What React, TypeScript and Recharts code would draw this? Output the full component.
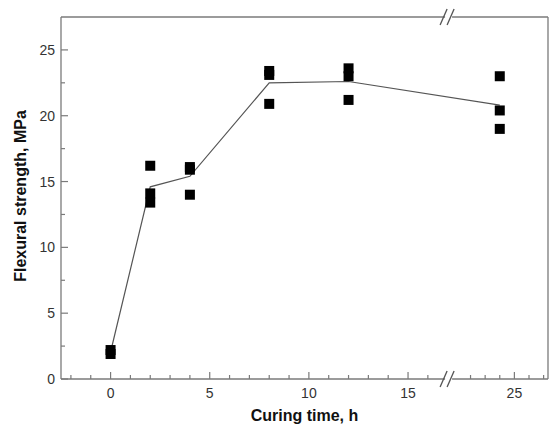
import { ComposedChart, XAxis, YAxis, Line, Scatter, ReferenceLine, ReferenceDot, Label } from 'recharts';

// curing time (h) and three specimens per time
const hours = [0, 2, 4, 8, 12, 24];
const specimenA = [2.2, 16.2, 16.1, 23.4, 23.6, 23.0];
const specimenB = [1.9, 14.1, 15.9, 23.1, 23.0, 20.4];
const specimenC = [null, 13.4, 14.0, 20.9, 21.2, 19.0];
const meanStrength = [2.05, 14.6, 15.4, 22.5, 22.6, 20.8];

const xMajorTicks = [0, 5, 10, 15, 25];
const xMinorTicks = [-2, -1, 1, 2, 3, 4, 6, 7, 8, 9, 11, 12, 13, 14, 16, 22, 23, 24, 26, 27];
const yMajorTicks = [0, 5, 10, 15, 20, 25];
const yMinorTicks = [2.5, 7.5, 12.5, 17.5, 22.5];

// broken x axis: 20.6..27.3 h is squeezed in after the break at 17.12
const BREAK_AT = 17.12;
const RIGHT_FROM = 20.6;
const RIGHT_SCALE = 0.737;
const toAxis = (h: number) => (h <= BREAK_AT ? h : BREAK_AT + (h - RIGHT_FROM) * RIGHT_SCALE);
const X_MIN = -2.5;
const X_MAX = toAxis(27.3);
const Y_MAX = 27.5;

const AXIS = '#7a7a7a';
const FONT = '"Liberation Sans", Arial, sans-serif';

const points = hours.flatMap((h, i) =>
  [specimenA[i], specimenB[i], specimenC[i]]
    .filter((v): v is number => v != null)
    .map((v) => ({ x: toAxis(h), y: v })),
);
const meanLine = hours.map((h, i) => ({ x: toAxis(h), y: meanStrength[i] }));

const xTicks = [...xMinorTicks, ...xMajorTicks].map(toAxis).concat(BREAK_AT);

function BreakMark({ x, y }: { x: number; y: number }) {
  return (
    <g>
      <rect x={x - 5} y={y - 2} width={7} height={4} fill="#fff" />
      <line x1={x - 10} y1={y + 8} x2={x - 3} y2={y - 8} stroke="#555" strokeWidth={1.3} />
      <line x1={x - 3} y1={y + 8} x2={x + 4} y2={y - 8} stroke="#555" strokeWidth={1.3} />
    </g>
  );
}

function XTick(props: any) {
  const { x, y, payload } = props;
  const v = payload.value;
  if (Math.abs(v - BREAK_AT) < 1e-6) return <BreakMark x={x} y={y} />;
  const major = xMajorTicks.find((t) => Math.abs(toAxis(t) - v) < 1e-6);
  return (
    <g>
      <line x1={x} x2={x} y1={y} y2={y - (major != null ? 7 : 4)} stroke={AXIS} strokeWidth={1.2} />
      {major != null && (
        <text x={x} y={y + 19} textAnchor="middle" fontSize={14} fill="#333" fontFamily={FONT}>
          {major}
        </text>
      )}
    </g>
  );
}

function YTick(props: any) {
  const { x, y, payload } = props;
  const major = yMajorTicks.includes(payload.value);
  return (
    <g>
      <line x1={x} x2={x + (major ? 7 : 4)} y1={y} y2={y} stroke={AXIS} strokeWidth={1.2} />
      {major && (
        <text x={x - 6} y={y + 5} textAnchor="end" fontSize={14} fill="#333" fontFamily={FONT}>
          {payload.value}
        </text>
      )}
    </g>
  );
}

const Square = (props: any) => <rect x={props.cx - 5} y={props.cy - 5} width={10} height={10} fill="#000" />;

export default function App() {
  return (
    <div style={{ position: 'absolute', left: 0, top: 0 }}>
      <ComposedChart width={550} height={424} margin={{ top: 17, right: 2, bottom: 0, left: 0 }}>
        <XAxis
          dataKey="x"
          type="number"
          domain={[X_MIN, X_MAX]}
          ticks={xTicks}
          interval={0}
          tick={<XTick />}
          tickLine={false}
          tickSize={0}
          tickMargin={0}
          height={45}
          axisLine={{ stroke: AXIS, strokeWidth: 1.3 }}
          allowDataOverflow
        >
          <Label
            content={(p: any) => (
              <text
                x={p.viewBox.x + p.viewBox.width / 2}
                y={p.viewBox.y + 42}
                textAnchor="middle"
                fontSize={16}
                fontWeight="bold"
                fill="#111"
                fontFamily={FONT}
              >
                Curing time, h
              </text>
            )}
          />
        </XAxis>
        <YAxis
          type="number"
          domain={[0, Y_MAX]}
          ticks={[...yMinorTicks, ...yMajorTicks].sort((a, b) => a - b)}
          interval={0}
          tick={<YTick />}
          tickLine={false}
          tickSize={0}
          tickMargin={0}
          width={61}
          axisLine={{ stroke: AXIS, strokeWidth: 1.3 }}
          allowDataOverflow
        >
          <Label
            content={() => (
              <text
                transform="translate(26,196) rotate(-90)"
                textAnchor="middle"
                fontSize={16}
                fontWeight="bold"
                fill="#111"
                fontFamily={FONT}
              >
                Flexural strength, MPa
              </text>
            )}
          />
        </YAxis>
        <ReferenceLine x={X_MAX} stroke={AXIS} strokeWidth={1.3} ifOverflow="visible" />
        <ReferenceLine y={Y_MAX} stroke={AXIS} strokeWidth={1.3} ifOverflow="visible" />
        <ReferenceDot
          x={BREAK_AT}
          y={Y_MAX}
          ifOverflow="visible"
          shape={(p: any) => <BreakMark x={p.cx} y={p.cy} />}
        />
        <Line
          data={meanLine}
          dataKey="y"
          type="linear"
          stroke="#555"
          strokeWidth={1.2}
          dot={false}
          isAnimationActive={false}
        />
        <Scatter data={points} dataKey="y" shape={<Square />} isAnimationActive={false} />
      </ComposedChart>
    </div>
  );
}
